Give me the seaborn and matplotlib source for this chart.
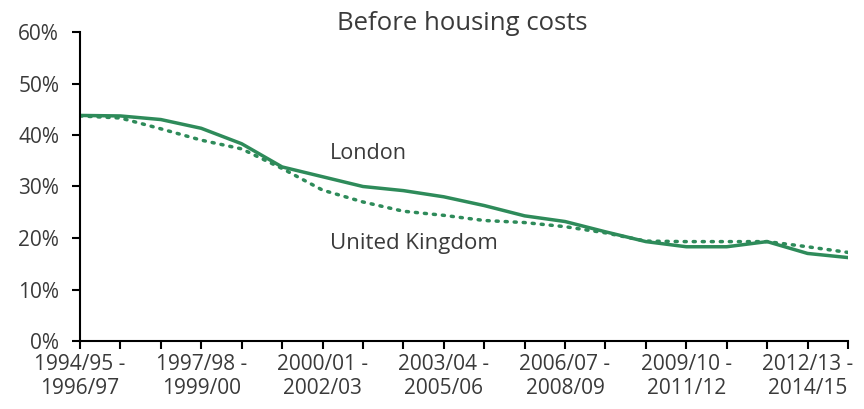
import numpy as np
import pandas as pd
import seaborn as sns
import matplotlib.pyplot as plt
from matplotlib.ticker import PercentFormatter

# three-year rolling periods, 1994/95-1996/97 to 2013/14-2015/16
periods = [f"{1994 + i}/{(95 + i) % 100:02d} - {1996 + i}/{(97 + i) % 100:02d}" for i in range(20)]
london = [43.8, 43.7, 43.0, 41.3, 38.3, 33.8, 31.9, 30.0, 29.2, 28.0,
          26.3, 24.3, 23.2, 21.2, 19.3, 18.3, 18.3, 19.3, 17.0, 16.2]
uk = [43.7, 43.3, 41.2, 39.0, 37.3, 33.5, 29.3, 27.0, 25.2, 24.4,
      23.4, 23.0, 22.2, 21.0, 19.4, 19.3, 19.3, 19.3, 18.3, 17.2]
tick_idx = [0, 3, 6, 9, 12, 15, 18]

df = pd.DataFrame({"idx": range(len(periods)), "period": periods,
                   "London": np.array(london) / 100, "United Kingdom": np.array(uk) / 100})

sns.set_style("white")
plt.rcParams['font.family'] = ['Open Sans', 'DejaVu Sans']
txt = "#3a3a3a"
green = "#2e8b5a"

fig = plt.figure(figsize=(8.64, 4.09), dpi=100)
ax = fig.add_axes([80 / 864, 1 - 341 / 409, (848 - 80) / 864, (341 - 32) / 409])

sns.lineplot(data=df, x="idx", y="London", ax=ax, color=green, linewidth=2.5)
sns.lineplot(data=df, x="idx", y="United Kingdom", ax=ax, color=green, linewidth=2.5,
             linestyle=(0, (0.6, 2.0)), dash_capstyle="round")

ax.set_xlim(0, len(periods) - 1)
ax.set_ylim(0, 0.6)
ax.set_xlabel("")
ax.set_ylabel("")
ax.yaxis.set_major_formatter(PercentFormatter(1.0, decimals=0))
ax.set_yticks(np.arange(0, 0.61, 0.1))
ax.set_xticks(range(len(periods)))
ax.set_xticklabels([periods[i].replace(" - ", " -\n") if i in tick_idx else "" for i in range(len(periods))],
                   linespacing=1.25)

for s in ["top", "right"]:
    ax.spines[s].set_visible(False)
for s in ["left", "bottom"]:
    ax.spines[s].set_color("black")
    ax.spines[s].set_linewidth(1.5)
ax.tick_params(axis="both", direction="out", length=6, width=1.5, color="black",
               labelsize=15, labelcolor=txt, bottom=True, left=True)
ax.tick_params(axis="x", pad=3)
ax.tick_params(axis="y", pad=9)

ax.text(6.18, 0.365, "London", fontsize=15.5, color=txt, va="center", ha="left")
ax.text(6.18, 0.19, "United Kingdom", fontsize=16, color=txt, va="center", ha="left")
fig.text(462 / 864, 1 - 24 / 409, "Before housing costs", fontsize=18.5, color=txt, ha="center", va="center")

fig.savefig("out.png", dpi=100)
